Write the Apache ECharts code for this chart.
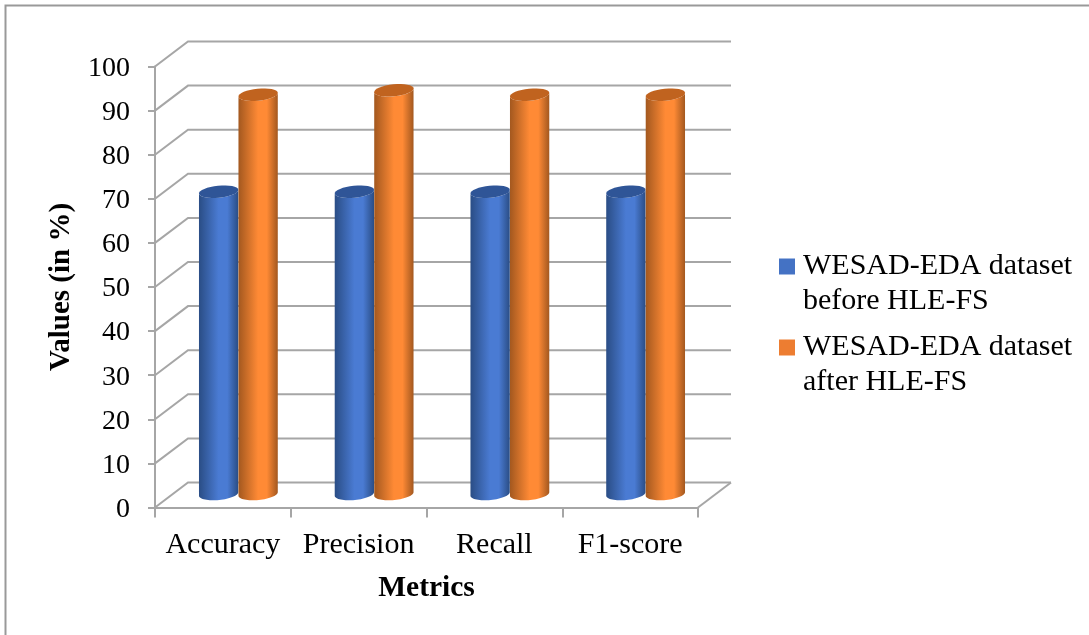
<!DOCTYPE html>
<html>
<head>
<meta charset="utf-8">
<style>
    html,body{margin:0;padding:0;background:#fff;}
    #main{width:1089px;height:635px;}
</style>
<script src="https://cdn.jsdelivr.net/npm/echarts@6/dist/echarts.min.js"></script>
</head>
<body>
<div id="main"></div>
<script>
    var categories = ['Accuracy','Precision','Recall','F1-score'];
    var beforeName = 'WESAD-EDA dataset\nbefore HLE-FS';
    var afterName = 'WESAD-EDA dataset\nafter HLE-FS';
    var beforeValues = [69,69,69,69];
    var afterValues = [91,92,91,91];
    var wallTicks = [0,10,20,30,40,50,60,70,80,90,100];

    var FONT = '"Liberation Serif","Times New Roman",serif';
    var LINE = '#a6a6a6';
    // fake 3d: how far the back wall sits from the front plane
    var DEPTH_X = 33, DEPTH_Y = 25;
    var BAR_W = 39.5, RY = 6, TILT = -0.1;

    function ellipsePoints(cx, cy, from, to){
        var pts = [];
        var rx = BAR_W / 2;
        for(var i = 0;i <= 32;i++){
            var t = from + (to - from) * i / 32;
            var ex = rx * Math.cos(t), ey = RY * Math.sin(t);
            pts.push([cx + ex * Math.cos(TILT) - ey * Math.sin(TILT),
                      cy + ex * Math.sin(TILT) + ey * Math.cos(TILT)]);
        }
        return pts;
    }

    function cylinder(side, edge, mid, cap){
        return function(params, api){
            var top = api.coord([api.value(0), api.value(1)]);
            var base = api.coord([api.value(0), 0]);
            var cx = top[0] + DEPTH_X / 2 - 1 + side * BAR_W / 2;
            var topY = top[1] - DEPTH_Y / 2 + 1;
            var baseY = base[1] - DEPTH_Y / 2 - 1;
            // body = lower half of base ellipse + lower half of top ellipse reversed
            var body = ellipsePoints(cx, baseY, Math.PI, 0)
                .concat(ellipsePoints(cx, topY, 0, Math.PI));
            return {
                type: 'group',
                children: [{
                    type: 'polygon',
                    shape: {points: body},
                    style: {
                        fill: new echarts.graphic.LinearGradient(0,0,1,0,[
                            {offset:0,color:edge},
                            {offset:0.5,color:mid},
                            {offset:0.72,color:mid},
                            {offset:1,color:edge}
                        ])
                    }
                },{
                    type: 'polygon',
                    shape: {points: ellipsePoints(cx, topY, 0, Math.PI * 2)},
                    style: {fill: cap}
                }]
            };
        };
    }

    function renderWall(params, api){
        var v = api.value(0);
        var p = api.coord([0, v]);
        var x0 = params.coordSys.x;
        var x1 = x0 + params.coordSys.width;
        var children = [{
            type: 'polyline',
            shape: {points: [[x0, p[1]], [x0 + DEPTH_X, p[1] - DEPTH_Y], [x1 + DEPTH_X, p[1] - DEPTH_Y]]},
            style: {fill: null, stroke: LINE, lineWidth: 2}
        }];
        if(v === 0){
            children.push({
                type: 'line',
                shape: {x1: x1, y1: p[1], x2: x1 + DEPTH_X, y2: p[1] - DEPTH_Y},
                style: {stroke: LINE, lineWidth: 2}
            });
        }
        return {type: 'group', children: children};
    }

    var myChart = echarts.init(document.getElementById('main'));
    var option = {
        backgroundColor: '#fff',
        animation: false,
        graphic: [{
            type: 'polyline',
            silent: true,
            shape: {points: [[5.5,635],[5.5,5.5],[1089,5.5]]},
            style: {fill: null, stroke: '#999', lineWidth: 2}
        }],
        legend: {
            data: [beforeName, afterName],
            orient: 'vertical',
            left: 779,
            top: 214,
            padding: 0,
            itemWidth: 16,
            itemHeight: 16,
            // blank first line puts the marker level with line one, the gap undoes that extra height
            itemGap: -24,
            selectedMode: false,
            icon: 'rect',
            formatter: function(name){ return '\n' + name; },
            textStyle: {
                fontFamily: FONT,
                fontSize: 30,
                lineHeight: 35,
                color: '#000',
                padding: [0,0,0,3]
            }
        },
        grid: {left: 155, top: 66.5, width: 543, height: 441},
        xAxis: {
            type: 'category',
            data: categories,
            name: 'Metrics',
            nameLocation: 'middle',
            nameGap: 66,
            nameTextStyle: {fontFamily: FONT, fontSize: 29.5, fontWeight: 'bold', color: '#000'},
            axisLine: {lineStyle: {color: LINE, width: 2}},
            axisTick: {show: true, interval: 0, length: 10, lineStyle: {color: LINE, width: 2}},
            axisLabel: {interval: 0, fontFamily: FONT, fontSize: 30, color: '#000', margin: 23}
        },
        yAxis: {
            type: 'value',
            min: 0,
            max: 100,
            interval: 10,
            name: 'Values (in %)',
            nameLocation: 'middle',
            nameGap: 79,
            nameTextStyle: {fontFamily: FONT, fontSize: 29, fontWeight: 'bold', color: '#000'},
            splitLine: {show: false},
            axisLine: {show: true, lineStyle: {color: LINE, width: 2}},
            axisTick: {show: true, length: 7, lineStyle: {color: LINE, width: 2}},
            axisLabel: {
                margin: 25,
                formatter: '{n|{value}}',
                rich: {n: {fontFamily: FONT, fontSize: 28, color: '#000', padding: [4,0,0,0]}}
            }
        },
        series: [{
            name: 'wall',
            type: 'custom',
            silent: true,
            z: 1,
            renderItem: renderWall,
            encode: {y: 0},
            data: wallTicks.map(function(v){ return [v]; })
        },{
            name: beforeName,
            type: 'custom',
            z: 2,
            itemStyle: {color: '#4472c4'},
            renderItem: cylinder(-1, '#2a4d85', '#4a7bd3', '#2f5597'),
            encode: {x: 0, y: 1},
            data: beforeValues.map(function(v, i){ return [i, v]; })
        },{
            name: afterName,
            type: 'custom',
            z: 3,
            itemStyle: {color: '#ed7d31'},
            renderItem: cylinder(1, '#a3581f', '#ff8a35', '#c0631f'),
            encode: {x: 0, y: 1},
            data: afterValues.map(function(v, i){ return [i, v]; })
        }]
    };
    myChart.setOption(option);
</script>
</body>
</html>
